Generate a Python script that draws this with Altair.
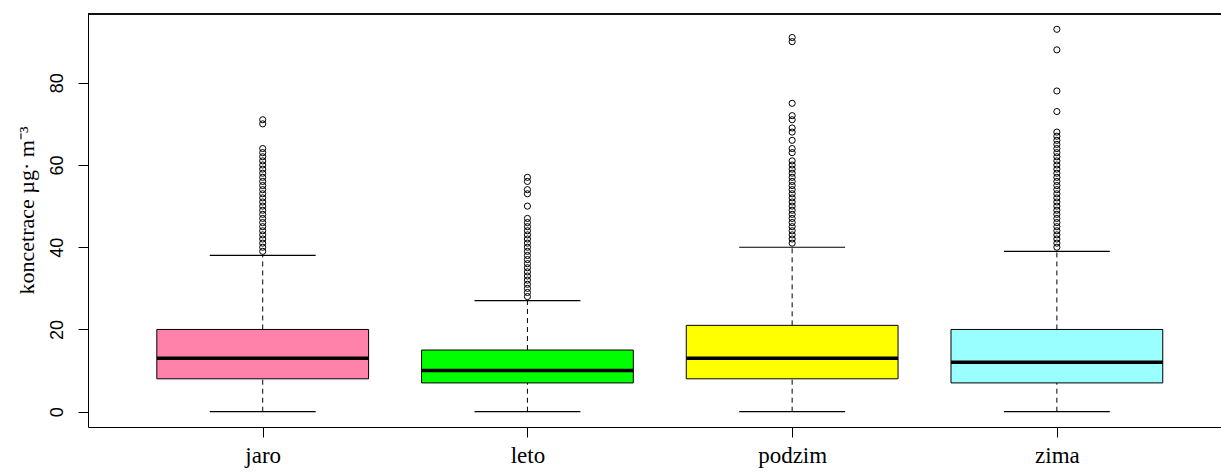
import json
import altair as alt
import pandas as pd

# ---- data ----
seasons = ["jaro", "leto", "podzim", "zima"]
positions = [1, 2, 3, 4]
whisker_low = [0, 0, 0, 0]
q1 = [8, 7, 8, 7]
median = [13, 10, 13, 12]
q3 = [20, 15, 21, 20]
whisker_high = [38, 27, 40, 39]
colors = ["#FF82AB", "#00FF00", "#FFFF00", "#99FFFF"]

outliers_jaro = [39, 40, 41, 42, 43, 44, 45, 46, 47, 48, 49, 50, 51, 52, 53, 54, 55,
                 56, 57, 58, 59, 60, 61, 62, 63, 64, 70, 71]
outliers_leto = [28, 29, 30, 31, 32, 33, 34, 35, 36, 37, 38, 39, 40, 41, 42, 43, 44,
                 45, 46, 47, 50, 53, 54, 56, 57]
outliers_podzim = [41, 42, 43, 44, 45, 46, 47, 48, 49, 50, 51, 52, 53, 54, 55, 56, 57,
                   58, 59, 60, 61, 63, 64, 66, 68, 69, 71, 72, 75, 90, 91]
outliers_zima = [40, 41, 42, 43, 44, 45, 46, 47, 48, 49, 50, 51, 52, 53, 54, 55, 56,
                 57, 58, 59, 60, 61, 62, 63, 64, 65, 66, 67, 68, 73, 78, 88, 93]

y_ticks = [0, 20, 40, 60, 80]
y_title = "koncetrace µg· m⁻³"

# ---- tables ----
box_df = pd.DataFrame({
    "season": seasons, "pos": positions, "lo": whisker_low, "q1": q1,
    "median": median, "q3": q3, "hi": whisker_high,
})
out_lists = [outliers_jaro, outliers_leto, outliers_podzim, outliers_zima]
out_rows = []
for s, p, vals in zip(seasons, positions, out_lists):
    for v in vals:
        out_rows.append({"season": s, "pos": p, "value": v})
out_df = pd.DataFrame(out_rows)

W, H = 1133, 413
xs = alt.Scale(domain=[0.34, 4.62], nice=False, zero=False)
ys = alt.Scale(domain=[-3.72, 96.72], nice=False, zero=False)

label_expr = json.dumps(seasons) + "[datum.value - 1]"
x_axis = alt.Axis(values=positions, labelExpr=label_expr, title=None, grid=False,
                  tickSize=10, labelPadding=25, labelBaseline="alphabetic",
                  labelFont="Liberation Serif", labelFontSize=23, labelColor="black",
                  domainColor="black", tickColor="black", labelAngle=0)
y_axis = alt.Axis(values=y_ticks, title=y_title, grid=False, tickSize=10,
                  labelAngle=270, labelAlign="center", labelBaseline="alphabetic",
                  labelPadding=16, labelFont="Liberation Sans", labelFontSize=18,
                  labelColor="black", domainColor="black", tickColor="black",
                  titleFont="Liberation Serif", titleFontSize=22, titleFontWeight="normal",
                  titleColor="black", titleAngle=270, titleAlign="center",
                  titleBaseline="middle", titleX=-62, titleY=196)

base = alt.Chart(box_df).transform_calculate(
    xl="datum.pos - 0.4", xr="datum.pos + 0.4",
    cl="datum.pos - 0.2", cr="datum.pos + 0.2",
)

whisk_up = base.mark_rule(color="black", strokeWidth=1, strokeDash=[5, 4]).encode(
    x=alt.X("pos:Q", scale=xs, axis=x_axis),
    y=alt.Y("q3:Q", scale=ys, axis=y_axis),
    y2="hi:Q",
)
whisk_dn = base.mark_rule(color="black", strokeWidth=1, strokeDash=[5, 4]).encode(
    x=alt.X("pos:Q", scale=xs, axis=x_axis),
    y=alt.Y("lo:Q", scale=ys, axis=y_axis),
    y2="q1:Q",
)
cap_hi = base.mark_rule(color="black", strokeWidth=1.2).encode(
    x=alt.X("cl:Q", scale=xs, axis=x_axis), x2="cr:Q",
    y=alt.Y("hi:Q", scale=ys, axis=y_axis),
)
cap_lo = base.mark_rule(color="black", strokeWidth=1.2).encode(
    x=alt.X("cl:Q", scale=xs, axis=x_axis), x2="cr:Q",
    y=alt.Y("lo:Q", scale=ys, axis=y_axis),
)
boxes = base.mark_rect(stroke="black", strokeWidth=1, opacity=1).encode(
    x=alt.X("xl:Q", scale=xs, axis=x_axis), x2="xr:Q",
    y=alt.Y("q1:Q", scale=ys, axis=y_axis), y2="q3:Q",
    color=alt.Color("season:N", scale=alt.Scale(domain=seasons, range=colors), legend=None),
)
med = base.mark_rule(color="black", strokeWidth=3.5).encode(
    x=alt.X("xl:Q", scale=xs, axis=x_axis), x2="xr:Q",
    y=alt.Y("median:Q", scale=ys, axis=y_axis),
)
pts = alt.Chart(out_df).mark_point(shape="circle", filled=False, color="black",
                                   strokeWidth=1, size=38, opacity=1).encode(
    x=alt.X("pos:Q", scale=xs, axis=x_axis),
    y=alt.Y("value:Q", scale=ys, axis=y_axis),
)
top_line = alt.Chart(box_df).mark_rule(color="black", strokeWidth=1).encode(
    x=alt.value(0), x2=alt.value(W), y=alt.value(0),
)

chart = alt.layer(whisk_up, whisk_dn, cap_hi, cap_lo, boxes, med, pts, top_line).properties(
    width=W, height=H,
    autosize=alt.AutoSizeParams(type="none"),
    padding={"left": 88, "top": 14, "right": 0, "bottom": 48},
    background="white",
).configure_view(stroke=None)

chart.save("out.html", embed_options={"renderer": "svg", "actions": False})
